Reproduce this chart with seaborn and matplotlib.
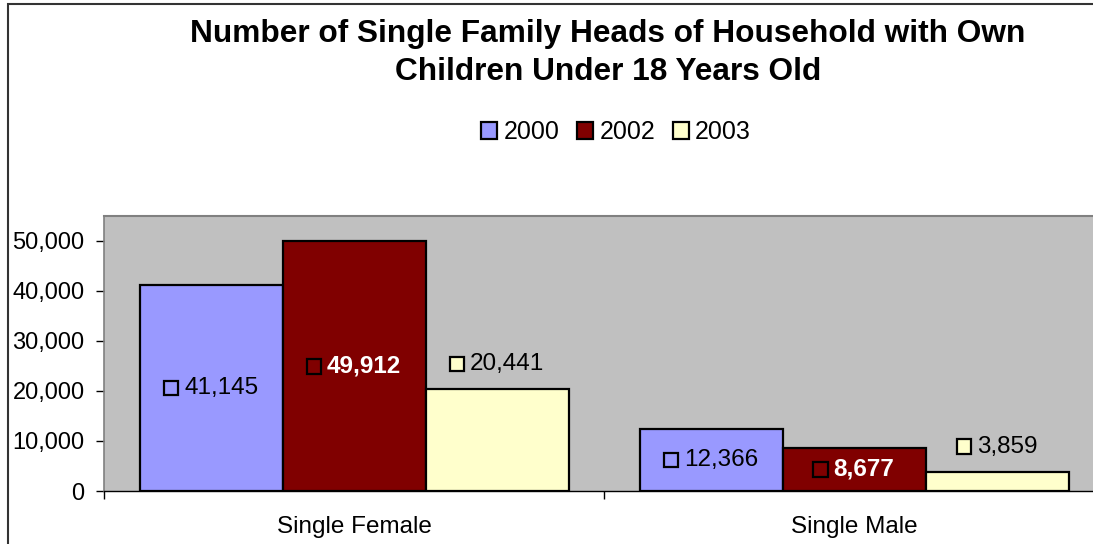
import pandas as pd
import matplotlib
matplotlib.use("Agg")
import matplotlib.pyplot as plt
import seaborn as sns
from matplotlib.patches import Rectangle, Patch
from matplotlib.offsetbox import AnnotationBbox, DrawingArea, TextArea, HPacker

# Chart data
categories = ["Single Female", "Single Male"]
years = ["2000", "2002", "2003"]
values_2000 = [41145, 12366]
values_2002 = [49912, 8677]
values_2003 = [20441, 3859]
colors = {"2000": "#9999FF", "2002": "#800000", "2003": "#FFFFCC"}

rows = []
for year, vals in zip(years, [values_2000, values_2002, values_2003]):
    for cat, v in zip(categories, vals):
        rows.append({"category": cat, "year": year, "value": v})
df = pd.DataFrame(rows)

sns.set_style("white")
plt.rcParams['font.family'] = ['Liberation Sans', 'DejaVu Sans']
plt.rcParams['text.color'] = 'black'
plt.rcParams['xtick.color'] = 'black'
plt.rcParams['ytick.color'] = 'black'

W, H = 1093, 544
fig = plt.figure(figsize=(W / 100, H / 100), dpi=100)

# axes in pixel coords: left 104, right 1104 (cropped), top 216, bottom 491
ax = fig.add_axes([104 / W, (H - 491) / H, 1000 / W, (491 - 216) / H])
ax.set_facecolor("#C0C0C0")

sns.barplot(data=df, x="category", y="value", hue="year", palette=colors,
            order=categories, hue_order=years, width=0.858, saturation=1,
            edgecolor="black", linewidth=1.6, ax=ax, legend=False)

ax.set_xlim(-0.5, 1.5)
ax.set_ylim(0, 55000)
ax.set_yticks([0, 10000, 20000, 30000, 40000, 50000])
ax.set_yticklabels([f"{int(t):,}" for t in ax.get_yticks()])
ax.set_xlabel("")
ax.set_ylabel("")

# ticks at category boundaries, labels at centers
ax.set_xticks([-0.5, 0.5, 1.5])
ax.set_xticklabels([])
ax.set_xticks([0, 1], minor=True)
ax.set_xticklabels(categories, minor=True, fontsize=17.5)
ax.tick_params(axis="x", which="major", bottom=True, direction="out", length=6, width=1,
               color="black")
ax.tick_params(axis="x", which="minor", bottom=True, length=0, pad=18)
ax.tick_params(axis="y", left=True, direction="out", length=6, width=1, color="black",
               labelsize=17, pad=8)

for side in ["top", "right"]:
    ax.spines[side].set_color("#808080")
    ax.spines[side].set_linewidth(1.5)
ax.spines["left"].set_color("#808080")
ax.spines["left"].set_linewidth(1.2)
ax.spines["bottom"].set_color("black")
ax.spines["bottom"].set_linewidth(1)

# data labels with legend key squares
label_style = {
    "2000": dict(color="black", fontweight="normal"),
    "2002": dict(color="white", fontweight="bold"),
    "2003": dict(color="black", fontweight="normal"),
}
for year, container in zip(years, ax.containers):
    for bar in container:
        x = bar.get_x() + bar.get_width() / 2
        h = bar.get_height()
        if year == "2003":
            y = h + 5000
        else:
            y = h / 2
        da = DrawingArea(10.5, 10.5, 0, 0)
        da.add_artist(Rectangle((0, 0), 10.5, 10.5, facecolor=colors[year],
                                edgecolor="black", linewidth=1.6))
        ta = TextArea(f"{int(h):,}", textprops=dict(fontsize=17.5, **label_style[year]))
        box = HPacker(children=[da, ta], align="center", pad=0, sep=4)
        ab = AnnotationBbox(box, (x, y), frameon=False, box_alignment=(0.5, 0.5), pad=0)
        ax.add_artist(ab)

# title
fig.text(608 / W, 1 - 53 / H,
         "Number of Single Family Heads of Household with Own\nChildren Under 18 Years Old",
         ha="center", va="center", fontsize=22.8, fontweight="bold", linespacing=1.36)

# legend
handles = [Patch(facecolor=colors[y], edgecolor="black", linewidth=1.6, label=y) for y in years]
fig.legend(handles=handles, loc="center", bbox_to_anchor=(616 / W, 1 - 132 / H), ncol=3,
           frameon=False, fontsize=18, handlelength=0.65, handleheight=0.65,
           handletextpad=0.25, columnspacing=0.7)

# outer chart border
fig.patches.append(Rectangle((8 / W, -0.1), 1.2, 1 - 4 / H + 0.1, transform=fig.transFigure,
                             fill=False, edgecolor="#333333", linewidth=1.5))

fig.savefig("out.png", dpi=100)
